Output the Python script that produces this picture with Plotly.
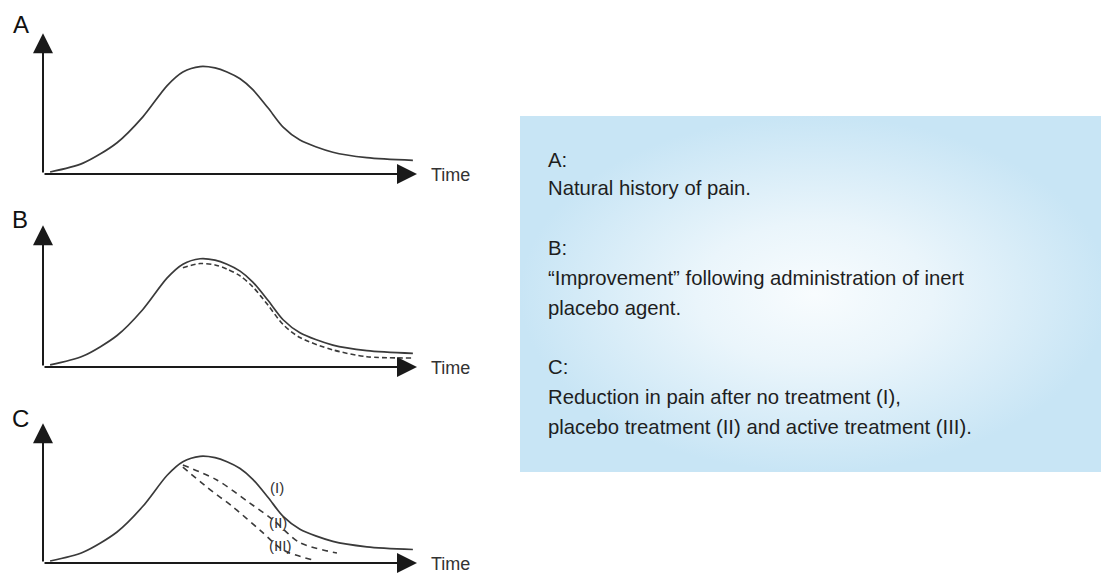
import plotly.graph_objects as go

# ---------------- data (time in arbitrary units 0-10, pain 0-1) ----------------
natural_t = [0.19, 1.07, 1.98, 2.67, 3.32, 3.74, 4.2, 4.6, 4.92, 5.27, 5.61, 6.02, 6.42, 6.87, 7.75, 8.66, 9.89]
natural_p = [0.015, 0.08, 0.23, 0.42, 0.65, 0.75, 0.79, 0.78, 0.75, 0.70, 0.62, 0.485, 0.345, 0.25, 0.16, 0.12, 0.10]

placebo_b_t = [3.74, 4.2, 4.6, 4.92, 5.27, 5.61, 6.02, 6.42, 6.87, 7.75, 8.66, 9.89]
placebo_b_p = [0.725, 0.755, 0.745, 0.715, 0.665, 0.585, 0.45, 0.31, 0.215, 0.125, 0.075, 0.066]

placebo_c_t = [3.74, 4.65, 5.53, 6.15, 6.87, 7.86]
placebo_c_p = [0.726, 0.615, 0.444, 0.32, 0.15, 0.074]

active_c_t = [3.74, 4.39, 5.08, 5.8, 6.42, 7.22]
active_c_p = [0.71, 0.56, 0.415, 0.244, 0.096, 0.022]

curve_labels = ["(I)", "(II)", "(III)"]
curve_label_t = [6.26, 6.28, 6.34]
curve_label_p = [0.556, 0.30, 0.13]

panel_letters = ["A", "B", "C"]
axis_label = "Time"

legend_lines = [
    "A:",
    "Natural history of pain.",
    "B:",
    "\u201cImprovement\u201d following administration of inert",
    "placebo agent.",
    "C:",
    "Reduction in pain after no treatment (I),",
    "placebo treatment (II) and active treatment (III).",
]

# ---------------- layout geometry ----------------
OFF = 8                      # page body margin
W, H = 1109 - OFF, 575 - OFF
def px_x(p): return (p - OFF) / W
def px_y(p): return 1 - (p - OFF) / H

YTOP = 1.035                 # arrow tip above the unit range
xdom = [px_x(43), px_x(417)]
bottoms = [174, 367, 563]
tops = [38, 230, 428]        # pixel of value 1.0
ydoms = []
for b, t in zip(bottoms, tops):
    span = b - t
    ydoms.append([px_y(b), px_y(b - span * YTOP)])
letter_pos = [(21, 25), (20, 219), (21, 418)]

CURVE = "#3a3a3a"
AX = "#1a1a1a"

fig = go.Figure()

# background box with radial gradient (axis 4 spans whole page)
bx0, bx1, by0, by1 = px_x(520), 1.0, px_y(472), px_y(116)
fig.add_trace(go.Scatter(
    x=[bx0, bx1, bx1, bx0, bx0], y=[by0, by0, by1, by1, by0],
    xaxis="x4", yaxis="y4", mode="lines", line=dict(width=0),
    fill="toself",
    fillgradient=dict(type="radial",
                      colorscale=[[0, "#f8fcfe"], [0.4, "#eaf5fb"], [1, "#c8e5f5"]]),
    hoverinfo="skip", showlegend=False,
))

spline = dict(shape="spline", smoothing=0.8)
for i in range(3):
    xa = "x" if i == 0 else f"x{i+1}"
    ya = "y" if i == 0 else f"y{i+1}"
    fig.add_trace(go.Scatter(x=natural_t, y=natural_p, xaxis=xa, yaxis=ya, mode="lines",
                             line=dict(color=CURVE, width=1.7, **spline),
                             showlegend=False, hoverinfo="skip"))

fig.add_trace(go.Scatter(x=placebo_b_t, y=placebo_b_p, xaxis="x2", yaxis="y2", mode="lines",
                         line=dict(color=CURVE, width=1.6, dash="5px,3px", **spline),
                         showlegend=False, hoverinfo="skip"))
fig.add_trace(go.Scatter(x=placebo_c_t, y=placebo_c_p, xaxis="x3", yaxis="y3", mode="lines",
                         line=dict(color=CURVE, width=1.6, dash="6px,5px", **spline),
                         showlegend=False, hoverinfo="skip"))
fig.add_trace(go.Scatter(x=active_c_t, y=active_c_p, xaxis="x3", yaxis="y3", mode="lines",
                         line=dict(color=CURVE, width=1.6, dash="6px,5px", **spline),
                         showlegend=False, hoverinfo="skip"))

annotations = []
for i in range(3):
    xa = "x" if i == 0 else f"x{i+1}"
    ya = "y" if i == 0 else f"y{i+1}"
    # y axis arrow
    annotations.append(dict(x=0, y=YTOP, ax=0, ay=0, xref=xa, yref=ya, axref=xa, ayref=ya,
                            text="", showarrow=True, arrowhead=2, arrowsize=2.0, arrowwidth=2,
                            arrowcolor=AX, standoff=0, startstandoff=0))
    # x axis arrow
    annotations.append(dict(x=10, y=0, ax=0, ay=0, xref=xa, yref=ya, axref=xa, ayref=ya,
                            text="", showarrow=True, arrowhead=2, arrowsize=2.0, arrowwidth=2,
                            arrowcolor=AX, standoff=0, startstandoff=0))
    annotations.append(dict(x=px_x(429), y=px_y(bottoms[i] + 1), xref="paper", yref="paper",
                            text=axis_label, showarrow=False,
                            xanchor="left", yanchor="middle",
                            font=dict(family="Liberation Sans, Arial", size=18, color="#333")))
    lx, ly = letter_pos[i]
    annotations.append(dict(x=px_x(lx), y=px_y(ly), xref="paper", yref="paper", text=panel_letters[i],
                            showarrow=False, xanchor="center", yanchor="middle",
                            font=dict(family="Liberation Sans, Arial", size=24, color="#111")))

for lab, t, p in zip(curve_labels, curve_label_t, curve_label_p):
    annotations.append(dict(x=t, y=p, xref="x3", yref="y3", text=lab, showarrow=False,
                            xanchor="center", yanchor="middle",
                            font=dict(family="Liberation Sans, Arial", size=15, color="#333")))

line_y = [160, 188, 248, 278, 308, 367, 397, 427]
for txt, yy in zip(legend_lines, line_y):
    annotations.append(dict(x=px_x(546), y=px_y(yy), xref="paper", yref="paper", text=txt,
                            showarrow=False, xanchor="left", yanchor="middle", align="left",
                            font=dict(family="Liberation Sans, Arial", size=20.3, color="#1e1e1e")))

axis_common = dict(visible=False, fixedrange=True)
layout = dict(
    width=W, height=H, margin=dict(l=0, r=0, t=0, b=0),
    paper_bgcolor="white", plot_bgcolor="rgba(0,0,0,0)",
    showlegend=False, annotations=annotations,
    xaxis4=dict(domain=[0, 1], range=[0, 1], anchor="y4", **axis_common),
    yaxis4=dict(domain=[0, 1], range=[0, 1], anchor="x4", **axis_common),
)
for i in range(3):
    sx = "" if i == 0 else str(i + 1)
    layout[f"xaxis{sx}"] = dict(domain=xdom, range=[0, 10], anchor=f"y{sx}", **axis_common)
    layout[f"yaxis{sx}"] = dict(domain=ydoms[i], range=[0, YTOP], anchor=f"x{sx}", **axis_common)

fig.update_layout(**layout)
fig.write_html("out.html")
